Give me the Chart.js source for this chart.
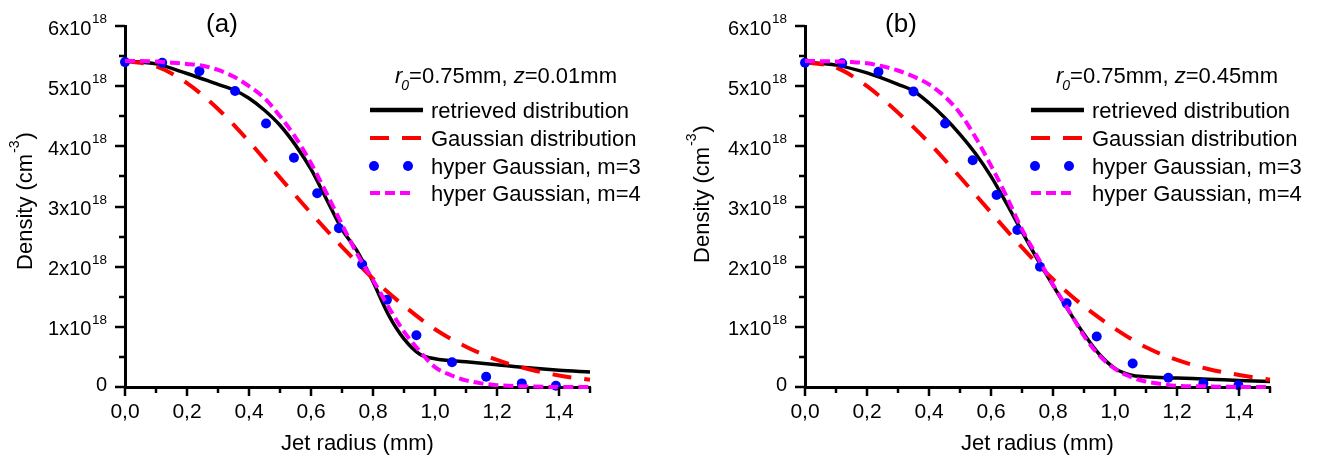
<!DOCTYPE html>
<html>
<head>
<meta charset="utf-8">
<script src="https://cdn.jsdelivr.net/npm/chart.js@4.4.0/dist/chart.umd.min.js"></script>
<style>
    body { margin: 0; background: #fff; }
    #wrap { position: relative; width: 1322px; height: 461px; }
    canvas { position: absolute; top: 0; }
</style>
</head>
<body>
<div id="wrap">
    <canvas id="panelA" width="661" height="461" style="left:0"></canvas>
    <canvas id="panelB" width="661" height="461" style="left:661px"></canvas>
</div>
<script>
// tick labels
const xTickValues = [0, 0.2, 0.4, 0.6, 0.8, 1.0, 1.2, 1.4];
const xTickLabels = ['0,0', '0,2', '0,4', '0,6', '0,8', '1,0', '1,2', '1,4'];
const yTickValues = [0, 1, 2, 3, 4, 5, 6];
const yTickLabels = ['0', '1x10', '2x10', '3x10', '4x10', '5x10', '6x10'];
const yTickExp = '18';

const seriesNames = ['retrieved distribution', 'Gaussian distribution', 'hyper Gaussian, m=3', 'hyper Gaussian, m=4'];

// density in units of 1e18 cm^-3, radius in mm
// panel (a) z=0.01mm
const retrR_A = [0, 0.1, 0.2, 0.3, 0.35, 0.4, 0.45, 0.5, 0.55, 0.6, 0.65, 0.7, 0.75, 0.8, 0.85, 0.9, 0.95, 1.0, 1.1, 1.2, 1.3, 1.4, 1.5];
const retrD_A = [5.42, 5.37, 5.21, 5.03, 4.94, 4.80, 4.60, 4.35, 4.02, 3.62, 3.12, 2.62, 2.25, 1.75, 1.20, 0.80, 0.55, 0.47, 0.42, 0.37, 0.32, 0.28, 0.25];

const gaussR = [0, 0.1, 0.2, 0.3, 0.4, 0.5, 0.6, 0.7, 0.8, 0.9, 1.0, 1.1, 1.2, 1.3, 1.4, 1.5];
const gaussD_A = [5.42, 5.33, 5.05, 4.62, 4.08, 3.48, 2.89, 2.33, 1.80, 1.35, 0.96, 0.67, 0.45, 0.30, 0.19, 0.12];

const hg3R_A = [0.0, 0.12, 0.24, 0.355, 0.455, 0.545, 0.62, 0.69, 0.765, 0.845, 0.94, 1.055, 1.165, 1.28, 1.39];
const hg3D_A = [5.40, 5.39, 5.25, 4.92, 4.38, 3.81, 3.22, 2.64, 2.04, 1.45, 0.86, 0.41, 0.17, 0.06, 0.02];

const hg4R = [0, 0.1, 0.15, 0.2, 0.25, 0.3, 0.35, 0.4, 0.45, 0.5, 0.55, 0.6, 0.65, 0.7, 0.75, 0.8, 0.85, 0.9, 0.95, 1.0, 1.05, 1.1, 1.15, 1.2, 1.3, 1.4, 1.5];
const hg4D_A = [5.42, 5.41, 5.39, 5.37, 5.34, 5.27, 5.16, 5.00, 4.80, 4.50, 4.15, 3.72, 3.22, 2.70, 2.20, 1.78, 1.33, 0.92, 0.60, 0.33, 0.20, 0.11, 0.06, 0.03, 0.01, 0, 0];

// panel (b) z=0.45mm
const retrR_B = [0, 0.1, 0.2, 0.3, 0.35, 0.4, 0.45, 0.5, 0.55, 0.6, 0.65, 0.7, 0.75, 0.8, 0.85, 0.9, 0.95, 1.0, 1.05, 1.1, 1.2, 1.3, 1.4, 1.5];
const retrD_B = [5.40, 5.35, 5.22, 5.03, 4.92, 4.72, 4.48, 4.20, 3.88, 3.50, 3.05, 2.58, 2.12, 1.69, 1.27, 0.88, 0.54, 0.31, 0.20, 0.17, 0.15, 0.13, 0.11, 0.09];

const gaussD_B = [5.40, 5.31, 5.00, 4.56, 4.06, 3.49, 2.90, 2.32, 1.79, 1.34, 0.97, 0.66, 0.45, 0.30, 0.20, 0.12];

const hg3R_B = [0.0, 0.12, 0.237, 0.35, 0.452, 0.541, 0.618, 0.685, 0.758, 0.844, 0.941, 1.057, 1.172, 1.285, 1.398];
const hg3D_B = [5.39, 5.38, 5.24, 4.91, 4.38, 3.77, 3.19, 2.61, 2.00, 1.39, 0.84, 0.39, 0.155, 0.06, 0.03];

const hg4D_B = [5.42, 5.41, 5.40, 5.38, 5.33, 5.26, 5.16, 5.03, 4.83, 4.55, 4.15, 3.68, 3.17, 2.62, 2.16, 1.70, 1.28, 0.85, 0.52, 0.30, 0.17, 0.09, 0.05, 0.02, 0.01, 0, 0];

const FONT = '"Liberation Sans", Arial, sans-serif';

function pts(xs, ys) {
    return xs.map((x, i) => ({x: x, y: ys[i]}));
}

// draws axes ticks, labels, titles, annotation and legend
const panelDecor = {
    id: 'panelDecor',
    afterDraw(chart, args, o) {
        const ctx = chart.ctx;
        const a = chart.chartArea;
        const xs = chart.scales.x, ys = chart.scales.y;
        ctx.save();
        ctx.fillStyle = '#000';
        ctx.strokeStyle = '#000';
        ctx.lineWidth = 2.5;

        // tick marks
        ys.ticks.forEach(t => {
            const py = Math.round(ys.getPixelForValue(t.value));
            const len = Math.abs(t.value - Math.round(t.value)) < 1e-6 ? 10 : 6;
            ctx.beginPath(); ctx.moveTo(a.left - len, py); ctx.lineTo(a.left, py); ctx.stroke();
        });
        xs.ticks.forEach(t => {
            const px = Math.round(xs.getPixelForValue(t.value));
            const len = Math.round(t.value * 10) % 2 === 0 ? 9 : 6;
            ctx.beginPath(); ctx.moveTo(px, a.bottom); ctx.lineTo(px, a.bottom + len); ctx.stroke();
        });

        // x tick labels
        ctx.font = '21px ' + FONT;
        ctx.textAlign = 'center';
        ctx.textBaseline = 'alphabetic';
        xTickValues.forEach((v, i) => {
            ctx.fillText(xTickLabels[i], xs.getPixelForValue(v), a.bottom + 31);
        });

        // y tick labels with superscript
        const rightEdge = a.left - 18;
        yTickValues.forEach((v, i) => {
            const py = ys.getPixelForValue(v);
            ctx.textAlign = 'right';
            if (v === 0) {
                ctx.font = '20px ' + FONT;
                ctx.fillText(yTickLabels[i], rightEdge, py + 4);
                return;
            }
            ctx.font = '13.5px ' + FONT;
            const sw = ctx.measureText(yTickExp).width;
            ctx.fillText(yTickExp, rightEdge, py - 3);
            ctx.font = '20px ' + FONT;
            ctx.fillText(yTickLabels[i], rightEdge - sw - 0.5, py + 8.5);
        });

        // x title
        ctx.font = '22px ' + FONT;
        ctx.textAlign = 'center';
        ctx.fillText('Jet radius (mm)', (a.left + a.right) / 2, 450);

        // y title (rotated)
        ctx.save();
        ctx.translate(a.left - o.yTitleOffset, o.yTitleCenter);
        ctx.rotate(-Math.PI / 2);
        ctx.textAlign = 'left';
        const p1 = 'Density (cm', p3 = ')';
        ctx.font = '14px ' + FONT;
        const w2 = ctx.measureText('-3').width;
        ctx.font = '22px ' + FONT;
        const w1 = ctx.measureText(p1).width, w3 = ctx.measureText(p3).width;
        let sx = -(w1 + w2 + w3) / 2;
        ctx.fillText(p1, sx, 8);
        ctx.font = '14px ' + FONT;
        ctx.fillText('-3', sx + w1 + 1, -5);
        ctx.font = '22px ' + FONT;
        ctx.fillText(p3, sx + w1 + w2 + 2, 8);
        ctx.restore();

        // panel letter
        ctx.font = '26px ' + FONT;
        ctx.textAlign = 'center';
        ctx.fillText(o.letter, o.letterX, 32);

        // annotation r0=0.75mm, z=...
        ctx.textAlign = 'left';
        let ax = 395;
        const ab = 83;
        ctx.font = 'italic 22px ' + FONT;
        ctx.fillText('r', ax, ab); ax += ctx.measureText('r').width;
        ctx.font = 'italic 14px ' + FONT;
        ctx.fillText('0', ax - 1, ab + 7); ax += ctx.measureText('0').width - 1;
        ctx.font = '22px ' + FONT;
        ctx.fillText('=0.75mm, ', ax, ab); ax += ctx.measureText('=0.75mm, ').width;
        ctx.font = 'italic 22px ' + FONT;
        ctx.fillText('z', ax, ab); ax += ctx.measureText('z').width;
        ctx.font = '22px ' + FONT;
        ctx.fillText('=' + o.zText, ax, ab);

        // legend
        const rows = [110, 138, 166, 193];
        chart.data.datasets.forEach((ds, i) => {
            const ry = rows[i];
            if (ds.showLine === false) {
                ctx.fillStyle = ds.pointBackgroundColor;
                [374, 408].forEach(cx => {
                    ctx.beginPath(); ctx.arc(cx, ry, ds.pointRadius, 0, Math.PI * 2); ctx.fill();
                });
            } else {
                ctx.strokeStyle = ds.borderColor;
                ctx.lineWidth = ds.legendWidth;
                ctx.setLineDash(ds.borderDash || []);
                ctx.beginPath(); ctx.moveTo(370, ry); ctx.lineTo(ds.legendEnd, ry); ctx.stroke();
                ctx.setLineDash([]);
            }
            ctx.fillStyle = '#000';
            ctx.font = '22px ' + FONT;
            ctx.fillText(ds.label, 431, ry + 8);
        });
        ctx.restore();
    }
};

function makePanel(id, d) {
    return new Chart(document.getElementById(id), {
        type: 'line',
        data: {
            datasets: [
                {
                    label: seriesNames[0],
                    data: pts(d.retrR, d.retrD),
                    borderColor: '#000000',
                    borderWidth: 3.5,
                    legendWidth: 4.5,
                    legendEnd: 423,
                    pointRadius: 0,
                    cubicInterpolationMode: 'monotone',
                    clip: false,
                    order: 4
                },
                {
                    label: seriesNames[1],
                    data: pts(gaussR, d.gaussD),
                    borderColor: '#ff0000',
                    borderWidth: 4,
                    legendWidth: 4,
                    legendEnd: 422,
                    borderDash: [19, 13],
                    pointRadius: 0,
                    cubicInterpolationMode: 'monotone',
                    clip: false,
                    order: 3
                },
                {
                    label: seriesNames[2],
                    data: pts(d.hg3R, d.hg3D),
                    showLine: false,
                    pointRadius: 5,
                    pointBorderWidth: 0,
                    pointBackgroundColor: '#0000ff',
                    pointBorderColor: '#0000ff',
                    clip: false,
                    order: 2
                },
                {
                    label: seriesNames[3],
                    data: pts(hg4R, d.hg4D),
                    borderColor: '#ff00ff',
                    borderWidth: 4,
                    legendWidth: 4,
                    legendEnd: 410,
                    borderDash: [10, 5],
                    pointRadius: 0,
                    cubicInterpolationMode: 'monotone',
                    clip: false,
                    order: 1
                }
            ]
        },
        options: {
            responsive: false,
            animation: false,
            events: [],
            layout: {
                padding: {left: 0, top: 26, right: d.padRight, bottom: 0}
            },
            plugins: {
                legend: {display: false},
                tooltip: {enabled: false},
                panelDecor: d.decor
            },
            scales: {
                x: {
                    type: 'linear',
                    min: 0,
                    max: 1.5,
                    ticks: {stepSize: 0.1, display: false},
                    grid: {display: false},
                    border: {display: true, color: '#000', width: 3},
                    afterFit: s => { s.height = 74; }
                },
                y: {
                    type: 'linear',
                    min: 0,
                    max: 6,
                    ticks: {stepSize: 0.5, display: false},
                    grid: {display: false},
                    border: {display: true, color: '#000', width: 3},
                    afterFit: s => { s.width = d.axisLeft; }
                }
            }
        },
        plugins: [panelDecor]
    });
}

makePanel('panelA', {
    retrR: retrR_A, retrD: retrD_A, gaussD: gaussD_A,
    hg3R: hg3R_A, hg3D: hg3D_A, hg4D: hg4D_A,
    axisLeft: 125, padRight: 71,
    decor: {letter: '(a)', letterX: 222, zText: '0.01mm', yTitleOffset: 101, yTitleCenter: 202}
});

makePanel('panelB', {
    retrR: retrR_B, retrD: retrD_B, gaussD: gaussD_B,
    hg3R: hg3R_B, hg3D: hg3D_B, hg4D: hg4D_B,
    axisLeft: 144, padRight: 52,
    decor: {letter: '(b)', letterX: 240, zText: '0.45mm', yTitleOffset: 104, yTitleCenter: 195}
});
</script>
</body>
</html>
